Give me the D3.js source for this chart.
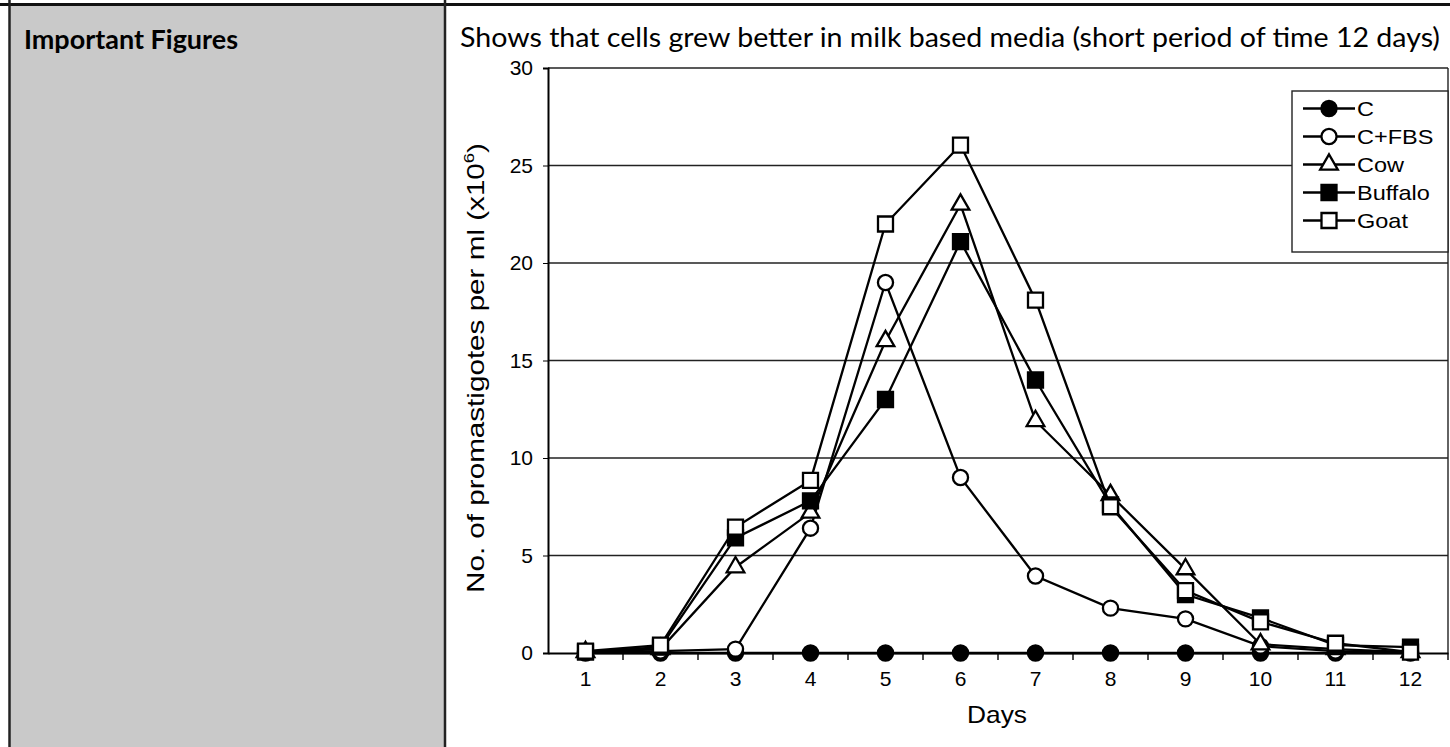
<!DOCTYPE html>
<html>
<head>
<meta charset="utf-8">
<script src="https://cdnjs.cloudflare.com/ajax/libs/d3/7.8.5/d3.min.js"></script>
<style>
  body { margin: 0; background: #fff; }
  svg { display: block; }
</style>
</head>
<body>
<svg id="chart"></svg>
<script>
// data
let days = [1, 2, 3, 4, 5, 6, 7, 8, 9, 10, 11, 12];
let yTicks = [0, 5, 10, 15, 20, 25, 30];
let seriesNames = ['C', 'C+FBS', 'Cow', 'Buffalo', 'Goat'];
let valuesC      = [0, 0, 0, 0, 0, 0, 0, 0, 0, 0, 0, 0];
let valuesCFBS   = [0.05, 0.1, 0.2, 6.4, 19, 9, 3.95, 2.3, 1.75, 0.35, 0.1, 0.05];
let valuesCow    = [0.05, 0.2, 4.4, 7.2, 16, 23, 11.9, 8.1, 4.3, 0.45, 0.2, 0.05];
let valuesBuffalo = [0.05, 0.3, 5.9, 7.8, 13, 21.1, 14, 7.6, 3.0, 1.8, 0.4, 0.3];
let valuesGoat   = [0.1, 0.4, 6.45, 8.85, 22, 26.05, 18.1, 7.5, 3.2, 1.6, 0.5, 0.05];

let title = 'Shows that cells grew better in milk based media (short period of time 12 days)';
let rowLabel = 'Important Figures';

let width = 1450;
let height = 747;

let svg = d3.select('#chart')
  .attr('width', width)
  .attr('height', height);

// table cells
svg.append('rect')
  .attr('x', 10).attr('y', 5)
  .attr('width', 435).attr('height', height)
  .attr('fill', '#c9c9c9');

svg.append('line')
  .attr('x1', 0).attr('x2', width)
  .attr('y1', 4.5).attr('y2', 4.5)
  .attr('stroke', '#111').attr('stroke-width', 3);

[9.5, 445].forEach(x => {
  svg.append('line')
    .attr('x1', x).attr('x2', x)
    .attr('y1', 0).attr('y2', height)
    .attr('stroke', '#222').attr('stroke-width', 2.5);
});

svg.append('text')
  .attr('x', 24).attr('y', 49)
  .attr('textLength', 214)
  .attr('lengthAdjust', 'spacingAndGlyphs')
  .style('font-family', 'Lato, sans-serif')
  .style('font-weight', 'bold')
  .style('font-size', '26px')
  .text(rowLabel);

svg.append('text')
  .attr('x', 460).attr('y', 47)
  .attr('textLength', 980)
  .attr('lengthAdjust', 'spacingAndGlyphs')
  .style('font-family', 'Lato, sans-serif')
  .style('font-size', '26px')
  .text(title);

// chart
let plotLeft = 548, plotRight = 1448, plotTop = 68, plotBottom = 653;

let x = d3.scaleBand()
  .domain(days)
  .range([plotLeft, plotRight]);

let y = d3.scaleLinear()
  .domain([0, 30])
  .range([plotBottom, plotTop]);

let font = 'Liberation Sans, Arial, sans-serif';

// grid lines
svg.append('g')
  .selectAll('line')
  .data(yTicks.filter(d => d > 0))
  .enter()
  .append('line')
    .attr('x1', plotLeft).attr('x2', plotRight)
    .attr('y1', d => y(d)).attr('y2', d => y(d))
    .attr('stroke', '#222')
    .attr('stroke-width', 1.4);

// right border of the plot
svg.append('line')
  .attr('x1', plotRight).attr('x2', plotRight)
  .attr('y1', plotTop).attr('y2', plotBottom)
  .attr('stroke', '#222').attr('stroke-width', 1.4);

// y axis
let yAxis = svg.append('g')
  .attr('transform', `translate(${plotLeft},0)`)
  .call(d3.axisLeft(y).tickValues(yTicks).tickSize(5).tickPadding(10));

yAxis.selectAll('text')
  .style('font-family', font)
  .style('font-size', '21px')
  .attr('fill', '#000');

// x axis with ticks between the categories
let xAxis = svg.append('g')
  .attr('transform', `translate(0,${plotBottom})`)
  .call(d3.axisBottom(x).tickSize(0).tickPadding(18));

xAxis.selectAll('text')
  .style('font-family', font)
  .style('font-size', '21px')
  .attr('fill', '#000');

xAxis.selectAll('.between')
  .data(days)
  .enter()
  .append('line')
    .attr('x1', d => x(d) + x.bandwidth())
    .attr('x2', d => x(d) + x.bandwidth())
    .attr('y1', 0).attr('y2', 7)
    .attr('stroke', '#000')
    .attr('stroke-width', 1.4);

svg.selectAll('.domain')
  .attr('stroke', '#000')
  .attr('stroke-width', 2);

// axis titles
svg.append('text')
  .attr('x', 997).attr('y', 723)
  .attr('text-anchor', 'middle')
  .attr('textLength', 60)
  .attr('lengthAdjust', 'spacingAndGlyphs')
  .style('font-family', font)
  .style('font-size', '24px')
  .text('Days');

let yTitle = svg.append('text')
  .attr('transform', 'translate(484,368) rotate(-90)')
  .attr('text-anchor', 'middle')
  .attr('textLength', 450)
  .attr('lengthAdjust', 'spacingAndGlyphs')
  .style('font-family', font)
  .style('font-size', '24px');
yTitle.append('tspan').text('No. of promastigotes per ml (x10');
yTitle.append('tspan').attr('dy', -10).style('font-size', '15px').text('6');
yTitle.append('tspan').attr('dy', 10).text(')');

// series
let series = [
  { name: seriesNames[0], values: valuesC, shape: d3.symbolCircle, size: 180, fill: '#000' },
  { name: seriesNames[1], values: valuesCFBS, shape: d3.symbolCircle, size: 180, fill: '#fff' },
  { name: seriesNames[2], values: valuesCow, shape: d3.symbolTriangle, size: 135, fill: '#fff' },
  { name: seriesNames[3], values: valuesBuffalo, shape: d3.symbolSquare, size: 225, fill: '#000' },
  { name: seriesNames[4], values: valuesGoat, shape: d3.symbolSquare, size: 225, fill: '#fff' }
];

let cx = d => x(d) + x.bandwidth() / 2;

let line = d3.line()
  .x((d, i) => cx(days[i]))
  .y(d => y(d));

let groups = svg.selectAll('.series')
  .data(series)
  .enter()
  .append('g')
    .classed('series', true);

groups.append('path')
  .attr('d', d => line(d.values))
  .attr('fill', 'none')
  .attr('stroke', '#000')
  .attr('stroke-width', 2.3);

groups.each(function(s) {
  d3.select(this).selectAll('path.mark')
    .data(s.values)
    .enter()
    .append('path')
      .classed('mark', true)
      .attr('d', d3.symbol().type(s.shape).size(s.size))
      .attr('transform', (d, i) => `translate(${cx(days[i])},${y(d)})`)
      .attr('fill', s.fill)
      .attr('stroke', '#000')
      .attr('stroke-width', 2.3);
});

// legend
let legend = svg.append('g');

legend.append('rect')
  .attr('x', 1292).attr('y', 91)
  .attr('width', plotRight - 1292).attr('height', 161)
  .attr('fill', '#fff')
  .attr('stroke', '#222')
  .attr('stroke-width', 1.4);

let items = legend.selectAll('.item')
  .data(series)
  .enter()
  .append('g')
    .attr('transform', (d, i) => `translate(1329,${108.5 + i * 28})`);

items.append('line')
  .attr('x1', -26).attr('x2', 26)
  .attr('stroke', '#000').attr('stroke-width', 2.3);

items.append('path')
  .attr('d', d => d3.symbol().type(d.shape).size(d.size)())
  .attr('fill', d => d.fill)
  .attr('stroke', '#000')
  .attr('stroke-width', 2.3);

items.append('text')
  .attr('transform', 'translate(28,7.5) scale(1.12,1)')
  .style('font-family', font)
  .style('font-size', '21px')
  .text(d => d.name);
</script>
</body>
</html>
